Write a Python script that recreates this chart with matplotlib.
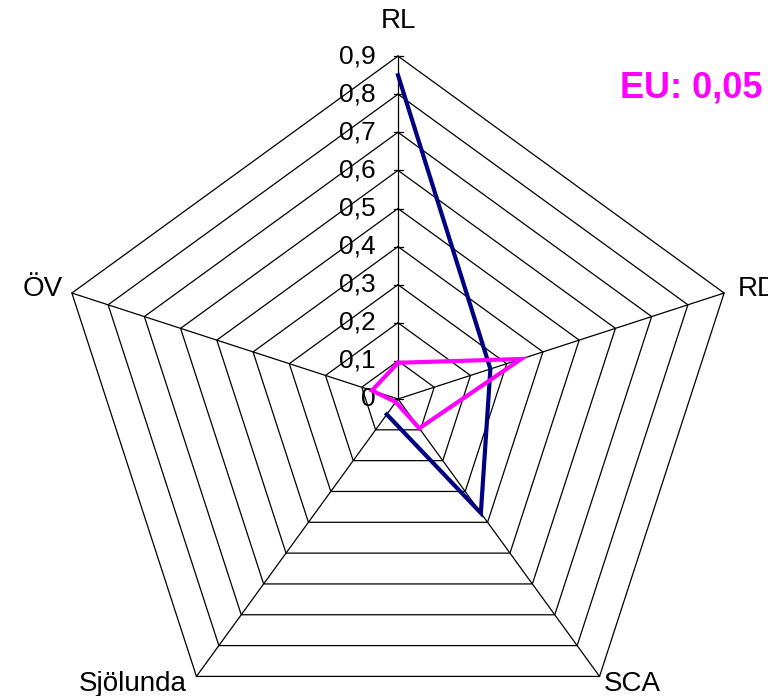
import numpy as np
import matplotlib
matplotlib.use("Agg")
import matplotlib.pyplot as plt

categories = ["RL", "RD", "SCA", "Sjölunda", "ÖV"]
series_blue = [0.85, 0.255, 0.37, 0.05, np.nan]
series_magenta = [0.095, 0.34, 0.095, 0.01, 0.072]
ring_levels = [0.0, 0.1, 0.2, 0.3, 0.4, 0.5, 0.6, 0.7, 0.8, 0.9]
ring_labels = ["0", "0,1", "0,2", "0,3", "0,4", "0,5", "0,6", "0,7", "0,8", "0,9"]
annotation = "EU: 0,05"

W, H = 768, 696
cx, cy = 398, 399
scale = 381.0  # pixels per unit

fig = plt.figure(figsize=(W / 100, H / 100), dpi=100)
ax = fig.add_axes([0, 0, 1, 1])
ax.set_xlim(-cx / scale, (W - cx) / scale)
ax.set_ylim(-(H - cy) / scale, cy / scale)
ax.set_aspect("equal")
ax.axis("off")

n = len(categories)
angles = np.array([np.pi / 2 - 2 * np.pi * i / n for i in range(n)])


def xy(vals):
    v = np.asarray(vals, dtype=float)
    a = angles[: len(v)]
    return v * np.cos(a), v * np.sin(a)


font = "Liberation Sans"
rmax = ring_levels[-1]

# rings
for lv in ring_levels[1:]:
    x, y = xy([lv] * n)
    ax.plot(np.append(x, x[0]), np.append(y, y[0]), color="black", lw=0.9, zorder=1)
# spokes
for a in angles:
    ax.plot([0, rmax * np.cos(a)], [0, rmax * np.sin(a)], color="black", lw=0.9, zorder=1)
# ticks on RL axis
tk = 4.5 / scale
for lv, lab in zip(ring_levels, ring_labels):
    ax.plot([-tk, tk], [lv, lv], color="black", lw=0.9, zorder=1)
    ax.text(-22 / scale, lv, lab, ha="right", va="center", fontsize=19,
            family=font, color="black", zorder=2)


def closed(vals):
    v = np.asarray(list(vals) + [vals[0]], dtype=float)
    a = np.asarray(list(angles) + [angles[0]])
    return v * np.cos(a), v * np.sin(a)


xb, yb = closed(series_blue)
ax.plot(xb, yb, color="#000080", lw=3.0, zorder=3, solid_joinstyle="miter")
xm, ym = closed(series_magenta)
ax.plot(xm, ym, color="#FF00FF", lw=3.0, zorder=4, solid_joinstyle="miter")

# category labels
off = {
    "RL": (0, 0.093, "center", "center"),
    "RD": (0.035, 0.01, "left", "center"),
    "SCA": (0.01, -0.02, "left", "center"),
    "Sjölunda": (-0.025, -0.02, "right", "center"),
    "ÖV": (-0.025, 0.01, "right", "center"),
}
for c, a in zip(categories, angles):
    dx, dy, ha, va = off[c]
    ax.text(rmax * np.cos(a) + dx, rmax * np.sin(a) + dy, c, ha=ha, va=va,
            fontsize=20, family=font, color="black")

ax.text((763 - cx) / scale, (cy - 88) / scale, annotation, ha="right", va="center",
        fontsize=26, fontweight="bold", family=font, color="#FF00FF")

fig.savefig("out.png", dpi=100)
